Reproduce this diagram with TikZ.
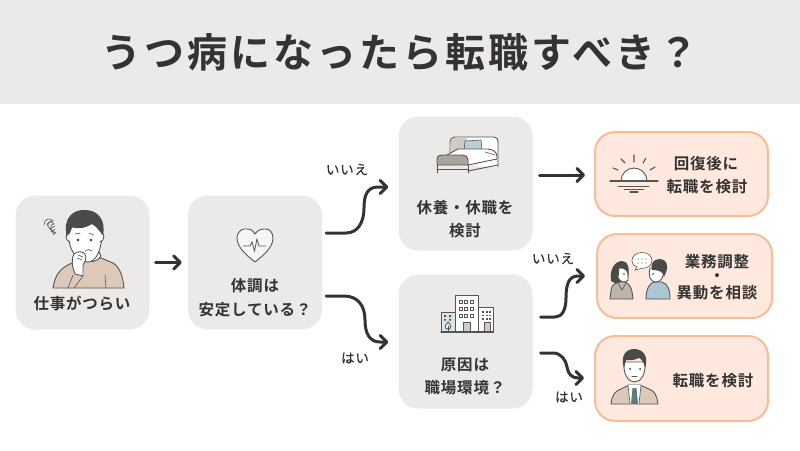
\documentclass[tikz,border=0pt]{standalone}
\usepackage{fontspec}
\usetikzlibrary{arrows.meta,calc}
\newfontfamily\jptext[LetterSpace=5,BoldFont={Noto Sans CJK JP Bold}]{Noto Sans CJK JP}
\newfontfamily\jptag[LetterSpace=6,FakeBold=0.25]{Noto Sans CJK JP}
\newfontfamily\jptitle[LetterSpace=7.5,BoldFont={Noto Sans CJK JP Bold}]{Noto Sans CJK JP}
\definecolor{ink}{HTML}{333333}
\definecolor{linegray}{HTML}{555555}
\definecolor{panel}{HTML}{EBEAE8}
\definecolor{peach}{HTML}{FFE9DE}
\definecolor{peachline}{HTML}{F7BD97}
\definecolor{sweater}{HTML}{DCC9B9}
\definecolor{hair}{HTML}{4A4A48}
\definecolor{steel}{HTML}{A9C6D2}
\definecolor{taupe}{HTML}{BDB5AB}
\definecolor{tiegreen}{HTML}{5F7D78}
\tikzset{
  x=1pt,y=-1pt,
  panelbox/.style={fill=panel,rounded corners=20pt,minimum width=#1,inner sep=0pt},
  stepbox/.style={panelbox=134pt,minimum height=134pt},
  resultbox/.style={fill=peach,draw=peachline,line width=2pt,rounded corners=20pt,inner sep=0pt},
  body/.style={text=ink,font=\jptext\bfseries\fontsize{15.5pt}{17pt}\selectfont,inner sep=0pt},
  tag/.style={text=ink,font=\jptag\fontsize{13.5pt}{15pt}\selectfont,inner sep=0pt},
  flow/.style={draw=ink,line width=3pt,line cap=round,line join=round,
    -{Straight Barb[length=6.5pt,width=13pt,round,line width=3pt]}},
  icon/.style={draw=linegray,line width=0.9pt,line join=round,line cap=round},
  thin/.style={draw=linegray,line width=0.6pt,line cap=round},
}
\begin{document}
\begin{tikzpicture}
\useasboundingbox (0,0) rectangle (800,450);
\fill[white] (0,0) rectangle (800,450);

% heading band
\node[fill=panel,minimum width=800pt,minimum height=104pt,inner sep=0pt] (band) at (400,52) {};
\node[text=ink,font=\jptitle\bfseries\fontsize{40pt}{44pt}\selectfont,inner sep=0pt] (title) at (400,52) {うつ病になったら転職すべき？};

% step panels
\node[stepbox] (work) at (82.5,262.5) {};
\node[stepbox] (health) at (255,262.5) {};
\node[stepbox] (rest) at (465.5,183.5) {};
\node[stepbox] (cause) at (465.5,341.5) {};

% outcome panels
\node[resultbox,minimum width=173pt,minimum height=84pt] (later) at (681.5,174) {};
\node[resultbox,minimum width=175pt,minimum height=84pt] (consult) at (684.5,276) {};
\node[resultbox,minimum width=173pt,minimum height=85pt] (change) at (681.5,378.5) {};

% panel wording
\node[body] (t1) at (82,303) {仕事がつらい};
\node[body] (t2a) at (255,286) {体調は};
\node[body] (t2b) at (255,310) {安定している？};
\node[body] (t3a) at (465,208) {休養・休職を};
\node[body] (t3b) at (465,231) {検討};
\node[body] (t4a) at (465,365) {原因は};
\node[body] (t4b) at (465,388) {職場環境？};
\node[body] (t5a) at (706,164) {回復後に};
\node[body] (t5b) at (707,187) {転職を検討};
\node[body] (t6a) at (717,262) {業務調整};
\node[body] (t6m) at (717,278) {・};
\node[body] (t6b) at (717,293) {異動を相談};
\node[body] (t7) at (713,381) {転職を検討};

% branch labels
\node[tag] (no1) at (347,169.5) {いいえ};
\node[tag] (yes1) at (355,358) {はい};
\node[tag] (no2) at (553,258.5) {いいえ};
\node[tag] (yes2) at (569,397) {はい};

% connectors
\coordinate (h1) at ($(health.east)+(4,-29.5)$);
\coordinate (h2) at ($(health.east)+(4,33.5)$);
\coordinate (r1) at ($(rest.west)+(-10,3.5)$);
\coordinate (c1) at ($(cause.west)+(-10,0.5)$);
\coordinate (rs) at ($(rest.east)+(7,-8.5)$);
\coordinate (re) at ($(later.west)+(-9,1)$);
\coordinate (cs1) at ($(cause.east)+(8,-24.5)$);
\coordinate (cs2) at ($(cause.east)+(8,11.5)$);
\coordinate (ce1) at ($(consult.west)+(-11,0)$);
\coordinate (ce2) at ($(change.west)+(-10,-0.5)$);
\draw[flow,shorten <=6pt,shorten >=6pt] (work.east) -- (health.west);
\draw[flow] (h1) -- (346,233) .. controls (358,233) and (364,222) .. (364,208) .. controls (364,194) and (368,187) .. (378,187) -- (r1);
\draw[flow] (h2) -- (344,296) .. controls (358,296) and (365,306) .. (365,320) .. controls (365,334) and (370,342) .. (380,342) -- (c1);
\draw[flow] (rs) -- (re);
\draw[flow] (cs1) -- (555,317) .. controls (562,317) and (566,310) .. (566,298) .. controls (566,284) and (569,276) .. (578,276) -- (ce1);
\draw[flow] (cs2) -- (553,353) .. controls (561,353) and (566,360) .. (567,367) .. controls (568,374) and (572,378) .. (578,378) -- (ce2);

% worried person
\begin{scope}
  \draw[icon,fill=sweater] (53,288) .. controls (55,275) and (60,268) .. (72,263) -- (84,258) -- (101,258) -- (113,263) .. controls (120,267) and (123,277) .. (124,288) -- cycle;
  \fill[panel] (50,288.5) rectangle (127,291);
  \draw[icon,fill=white] (84,258) .. controls (90,264) and (97,262) .. (101,256) -- (98,250) -- (86,250) -- cycle;
  \draw[icon,fill=white] (69,232) .. controls (67,250) and (78,262) .. (88,262) .. controls (96,262) and (102,250) .. (102,232) .. controls (100,220) and (72,220) .. (69,232) -- cycle;
  \draw[icon,fill=white] (69,233) .. controls (65,232) and (65,241) .. (70,242);
  \draw[icon,fill=white] (101,233) .. controls (105,232) and (105,241) .. (100,242);
  \fill[hair] (67,236) .. controls (62,218) and (74,209) .. (85,210) .. controls (98,210) and (106,220) .. (103,235) .. controls (100,232) and (96,226) .. (92,224) .. controls (84,229) and (76,229) .. (72,227) .. controls (71,231) and (70,234) .. (67,236) -- cycle;
  \fill[ink] (78,240) circle (1.4pt) (91,240) circle (1.4pt);
  \draw[thin] (75,234) -- (80,233) (89,233) -- (94,235);
  \draw[thin] (85,251) .. controls (87,249) and (90,249) .. (92,251);
  \draw[icon,fill=white] (75,274) .. controls (72,266) and (71,259) .. (74,254) .. controls (77,251) and (83,251) .. (85,254) .. controls (87,258) and (85,262) .. (83,265) -- (83,276) -- cycle;
  \draw[thin] (78,255) -- (83,257) (77,258) -- (82,260);
  \draw[thin] (73,275) -- (68,288) (83,276) -- (74,288);
  \draw[thin] (105,275) -- (106,288);
  % worry scribble
  \draw[thin] (44,225) .. controls (44,219) and (50,217) .. (53,221) .. controls (50,221) and (47,223) .. (48,226) .. controls (49,229) and (52,231) .. (56,233);
  \draw[thin] (47,226) .. controls (47,222) and (51,220) .. (54,224) .. controls (51,224) and (50,227) .. (51,229) .. controls (52,232) and (53,233) .. (55,234);
  \draw[thin] (50,229) -- (55,226) (51,232) -- (55,229) (53,235) -- (56,232);
\end{scope}

% heart with pulse trace
\draw[icon,fill=white,fill opacity=0.6] (255,262) .. controls (246,255) and (237,247) .. (237,238) .. controls (237,231) and (243,228) .. (247,229) .. controls (251,229) and (254,231) .. (255,234) .. controls (257,231) and (260,229) .. (264,229) .. controls (269,228) and (273,232) .. (273,238) .. controls (273,247) and (264,255) .. (255,262) -- cycle;
\draw[thin,line width=0.8pt] (243,246) -- (250,246) -- (252,242) -- (254.5,251) -- (257,239) -- (259,246) -- (266,246);

% bed
\begin{scope}
  \draw[icon,fill=white] (450,165) -- (450,143) .. controls (450,139) and (452,137) .. (456,137) -- (493,137) .. controls (497,137) and (498,139) .. (498,143) -- (498,167);
  \fill[fill=taupe!70!white] (450.6,158) -- (450.6,143) .. controls (450.6,139) and (452,137.6) .. (456,137.6) -- (467,137.6) -- (467,158) -- cycle;
  \draw[thin,fill=steel!85!white] (465,141) -- (481,140) -- (482,151) -- (464,151) -- cycle;
  \draw[icon,fill=white] (447,155) -- (458,149) -- (488,149) .. controls (494,150) and (497,152) .. (497,157) -- (497,159) -- (468,165) -- cycle;
  \draw[thin] (485,152) -- (495,155);
  \draw[icon] (468,171) -- (498,165);
  \draw[icon,fill=taupe!90!black] (437,165) -- (437,160) .. controls (437,156) and (439,155) .. (442,155) -- (463,155) .. controls (466,155) and (468,157) .. (468,160) -- (468,165) -- cycle;
  \draw[icon] (437,165) -- (437,173) (468,165) -- (468,173);
  \draw[icon] (437,169) -- (468,169);
\end{scope}

% office buildings
\begin{scope}
  \draw[icon,fill=steel!45!white] (441,312) rectangle (455,332);
  \draw[icon,fill=white] (455,295) rectangle (478,332);
  \draw[icon,fill=white] (478,307) rectangle (493,332);
  \draw[icon,fill=taupe!70!white] (463,322) rectangle (470,332);
  \draw[icon,fill=taupe!70!white] (484,322) rectangle (490,332);
  \foreach \wx in {459,464.5,470} \foreach \wy in {300,307,314} {
    \draw[thin,line width=0.7pt,fill=white] (\wx,\wy) rectangle ++(3,3);
  }
  \foreach \wx in {482,485.5,489} \foreach \wy in {311,314.5,318} {
    \fill[linegray] (\wx,\wy) rectangle ++(2,1.5);
  }
  \fill[linegray] (444,315) rectangle ++(2,2) (449,315) rectangle ++(2,2) (444,319) rectangle ++(2,1.5) (449,319) rectangle ++(2,1.5);
  \draw[icon,fill=white] (448,322) .. controls (444,326) and (445,329) .. (448,329) .. controls (451,329) and (452,326) .. (448,322) -- cycle;
  \draw[thin] (448,326) -- (448,332);
  \draw[icon,line width=1.2pt] (441,332) -- (493,332);
\end{scope}

% sunset over water
\begin{scope}
  \draw[icon,fill=white] (621,181) arc[start angle=180,end angle=360,radius=13];
  \draw[icon,line width=1.1pt] (610,181) -- (658,181);
  \draw[icon] (618,186) -- (649,186) (624,189.5) -- (644,189.5);
  \draw[icon,line width=1.1pt] (630,192) -- (638,192);
  \draw[icon,line width=1.1pt]
    (634,162) -- (634,155)
    (625,163) -- (621,159)
    (643,163) -- (646,158)
    (650,170) -- (655,167)
    (618,170) -- (613,168);
\end{scope}

% two people talking
\begin{scope}
  \fill[hair] (611,281) .. controls (609,268) and (616,261) .. (622,261) .. controls (628,261) and (630,268) .. (628,280) -- (617,284) -- cycle;
  \draw[icon,fill=white] (619,268) .. controls (624,267) and (629,271) .. (628,276) -- (628,280) .. controls (626,283) and (621,283) .. (618,278) -- cycle;
  \draw[icon,fill=taupe] (610,299) -- (611,290) .. controls (612,284) and (616,283) .. (620,282) -- (625,282) .. controls (630,284) and (632,288) .. (633,299) -- cycle;
  \draw[thin] (618,283) -- (622,290) -- (626,283);
  \draw[icon,fill=steel] (646,299) .. controls (646,288) and (650,283) .. (654,282) -- (662,282) .. controls (668,284) and (670,290) .. (670,299) -- cycle;
  \draw[icon,fill=white] (650,268) .. controls (648,276) and (650,282) .. (656,282) .. controls (662,282) and (664,276) .. (664,268) -- cycle;
  \fill[hair] (652,270) .. controls (650,263) and (654,259) .. (660,259) .. controls (666,259) and (669,265) .. (666,272) -- (664,277) .. controls (663,272) and (660,270) .. (652,270) -- cycle;
  \fill[ink] (624,274) circle (0.8pt) (653,274) circle (0.8pt);
  \draw[thin,fill=white] (642,252.5) .. controls (636,252.5) and (632,256) .. (632,260.5) .. controls (632,264) and (634,266) .. (637,267) -- (635,270) -- (641,268.5) .. controls (648,268.5) and (652,265) .. (652,260.5) .. controls (652,256) and (648,252.5) .. (642,252.5) -- cycle;
  \foreach \dx in {638,642,646} \fill[linegray] (\dx,259) circle (0.6pt) (\dx,263) circle (0.6pt);
\end{scope}

% person in a suit
\begin{scope}
  \draw[icon,fill=sweater] (611,404) .. controls (612,395) and (615,391) .. (621,389) -- (629,385) -- (640,385) -- (649,389) .. controls (655,391) and (657,396) .. (658,404) -- cycle;
  \fill[white] (628,385) -- (641,385) -- (639,404) -- (630,404) -- cycle;
  \fill[tiegreen] (632.5,388) -- (636.5,388) -- (638,404) -- (631,404) -- cycle;
  \draw[thin] (628,385) -- (630,404) (641,385) -- (639,404);
  \draw[icon,fill=white] (624,362) .. controls (623,374) and (628,382) .. (634.5,382) .. controls (641,382) and (646,374) .. (645,362) -- cycle;
  \fill[hair] (624,368) .. controls (620,356) and (626,349) .. (634,349) .. controls (643,349) and (649,356) .. (645,368) .. controls (644,363) and (642,359) .. (639,358) .. controls (633,361) and (628,360) .. (626,360) .. controls (625,363) and (625,365) .. (624,368) -- cycle;
  \fill[ink] (630,369) circle (1pt) (640,369) circle (1pt);
  \draw[thin] (632,376) -- (637,376);
\end{scope}
\end{tikzpicture}
\end{document}
